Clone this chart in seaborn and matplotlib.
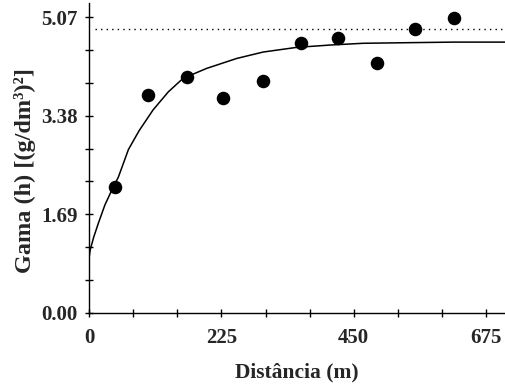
import matplotlib
matplotlib.use("Agg")
import matplotlib.pyplot as plt
import seaborn as sns
import pandas as pd
from matplotlib.ticker import MultipleLocator, FixedLocator

# Experimental semivariogram points
distancia = [45, 100, 166, 227, 296, 360, 424, 490, 554, 621]
gama = [2.16, 3.73, 4.05, 3.69, 3.97, 4.62, 4.71, 4.29, 4.86, 5.05]

# Fitted model curve
curva_h = [0, 2, 8, 16, 27, 39, 50, 67, 85, 109, 135, 160, 200, 251, 296, 353, 410, 466, 540, 620, 710]
curva_g = [0.93, 1.08, 1.30, 1.54, 1.85, 2.11, 2.33, 2.80, 3.12, 3.48, 3.79, 4.02, 4.19, 4.36, 4.47, 4.55, 4.59, 4.62, 4.63, 4.64, 4.64]

# Sample variance (dotted line)
variancia = 4.87

x_ticks = [0, 225, 450, 675]
y_ticks = [0.00, 1.69, 3.38, 5.07]
y_tick_labels = ["0.00", "1.69", "3.38", "5.07"]

sns.set_style("ticks")
plt.rcParams['font.family'] = ['Liberation Serif', 'DejaVu Serif']
plt.rcParams['font.weight'] = 'bold'

fig = plt.figure(figsize=(5.05, 3.84), dpi=100)
ax = fig.add_axes([89 / 505, 71 / 384, 1 - 89 / 505, (313 - 3) / 384])

pts = pd.DataFrame({"h": distancia, "g": gama})
mod = pd.DataFrame({"h": curva_h, "g": curva_g})

sns.lineplot(data=mod, x="h", y="g", ax=ax, color="black", linewidth=1.1, sort=False)
ax.axhline(variancia, color="black", linestyle=(0, (1, 3)), linewidth=1.0, xmin=0.015)
sns.scatterplot(data=pts, x="h", y="g", ax=ax, color="black", s=95, edgecolor="black", linewidth=0, zorder=5)

ax.set_xlim(0, 707)
ax.set_ylim(0, 5.31)

ax.set_xticks(x_ticks)
ax.set_xticklabels([str(t) for t in x_ticks])
ax.set_yticks(y_ticks)
ax.set_yticklabels(y_tick_labels)
ax.xaxis.set_minor_locator(MultipleLocator(75))
ax.yaxis.set_minor_locator(FixedLocator([i * 5.07 / 9 for i in range(10)]))

ax.tick_params(axis="both", which="both", direction="inout", length=6, width=1.0, color="black")
ax.tick_params(axis="x", which="major", labelsize=15, pad=8)
ax.tick_params(axis="y", which="major", labelsize=15, pad=5)

for lab in ax.get_xticklabels() + ax.get_yticklabels():
    lab.set_fontweight("bold")

ax.set_xlabel("Distância (m)", fontsize=15.5, fontweight="bold")
ax.set_ylabel("Gama (h) [(g/dm³)²]", fontsize=17.5, fontweight="bold")
ax.xaxis.set_label_coords(0.5, -0.16)
ax.yaxis.set_label_coords(-0.128, 0.46)

sns.despine(ax=ax)
for sp in ["left", "bottom"]:
    ax.spines[sp].set_linewidth(1.0)
    ax.spines[sp].set_color("black")

fig.savefig("out.png", dpi=100)
